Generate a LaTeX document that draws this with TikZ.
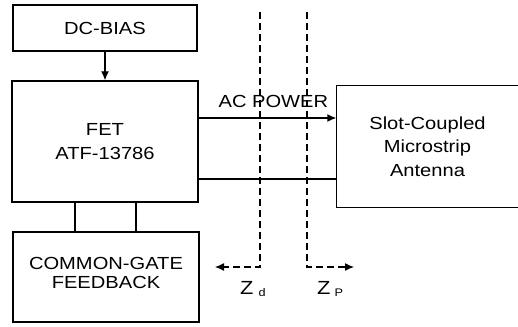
\documentclass[tikz,border=0pt]{standalone}
\usepackage{fontspec}
\setmainfont{Liberation Sans}[FakeStretch=1.15]
\usepackage{tikz}
\usetikzlibrary{arrows.meta, positioning, calc}

\begin{document}
\begin{tikzpicture}[
    x=1pt, y=-1pt,
    block/.style={draw, rectangle, line width=1.3pt, align=center, inner sep=0pt,
        font=\fontsize{17.5}{23.3}\selectfont},
    wire/.style={line width=1.3pt},
    refline/.style={line width=1.2pt, dash pattern=on 7pt off 4pt},
    zlabel/.style={inner sep=0pt, anchor=base west, font=\fontsize{19}{19}\selectfont},
    >={Latex[length=9pt, width=8pt]}
]
    \useasboundingbox (0,0) rectangle (518,326);

    % Bias and transistor
    \node[block, minimum width=184, minimum height=46] (bias) at (105,28) {DC-BIAS};
    \node[block, minimum width=186, minimum height=121] (fet) at (105,141.5) {FET\\ATF-13786};

    % Feedback
    \node[block, minimum width=186, minimum height=90, text depth=8pt,
        font=\fontsize{17.5}{19.3}\selectfont] (fb) at (106,277) {COMMON-GATE\\FEEDBACK};

    % Antenna (right side open)
    \node[block, draw=none, minimum width=181, minimum height=121] (ant) at (427.5,146.5)
        {Slot-Coupled\\Microstrip\\Antenna};
    \draw[wire] (ant.north east) -- (ant.north west) -- (ant.south west) -- (ant.south east);

    % Connections
    \draw[wire, ->] (bias) -- (fet);
    \draw[wire] ([xshift=-30pt]fet.south) -- ([xshift=-30pt]fet.south |- fb.north);
    \draw[wire] ([xshift=31pt]fet.south) -- ([xshift=31pt]fet.south |- fb.north);
    \draw[wire, ->] ([yshift=23.5pt]fet.east) -- node[pos=0.543, above=6pt, inner sep=3.33pt,
        font=\fontsize{17.5}{20}\selectfont] (acp) {AC POWER} ([yshift=23.5pt]fet.east -| ant.west);
    \draw[wire] ([yshift=-37.5pt]fet.east) -- ([yshift=-37.5pt]fet.east -| ant.west);

    % Reference planes
    \coordinate (zdtop) at (260,12);
    \coordinate (zdbot) at (260,267);
    \coordinate (zdend) at (215,267);
    \coordinate (zptop) at (307,12);
    \coordinate (zpbot) at (307,267);
    \coordinate (zpend) at (354,267);
    \draw[refline, ->] (zdtop) -- (zdbot) -- (zdend);
    \draw[refline, ->] (zptop) -- (zpbot) -- (zpend);

    % Labels
    \node[zlabel] (zd) at (240,294) {Z\hspace{5pt}\raisebox{-2pt}{\fontsize{11}{11}\selectfont d}};
    \node[zlabel] (zp) at (317,294) {Z\hspace{4pt}\raisebox{-2pt}{\fontsize{11}{11}\selectfont P}};
\end{tikzpicture}
\end{document}
